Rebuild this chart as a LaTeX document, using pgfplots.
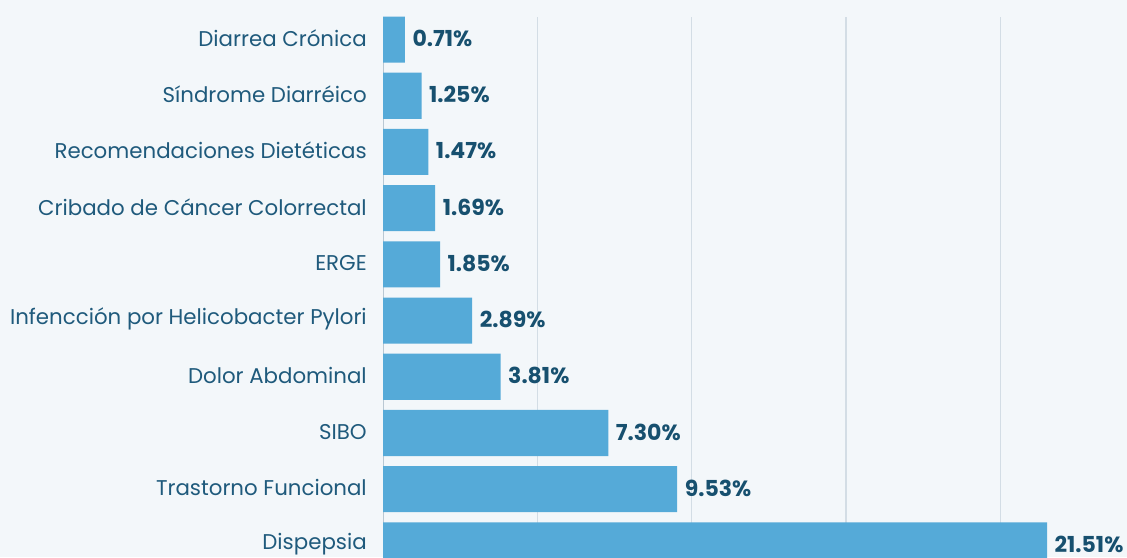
\documentclass[border=0pt]{standalone}
\usepackage{fontspec}
\setmainfont{Poppins}
\usepackage{pgfplots}
\pgfplotsset{compat=1.18}
\definecolor{bg}{HTML}{F3F7FA}
\definecolor{barc}{HTML}{55AAD8}
\definecolor{lab}{HTML}{1F5A7C}
\definecolor{val}{HTML}{17506F}
\definecolor{gridc}{HTML}{D3DDE5}
\definecolor{axl}{HTML}{B9C8D3}
\begin{document}
\begin{tikzpicture}
\useasboundingbox (0pt,0pt) rectangle (845.25pt,-417.75pt);
\fill[bg] (0pt,0pt) rectangle (845.25pt,-417.75pt);
\clip (0pt,0pt) rectangle (845.25pt,-417.75pt);
\begin{axis}[
  at={(287.25pt,-12.375pt)}, anchor=north west,
  scale only axis, width=558pt, height=405.375pt,
  xmin=0, xmax=24.1, ymin=-0.207, ymax=9.41,
  xbar, bar width=0.82, bar shift=0pt,
  axis lines*=left,
  x axis line style={draw=none},
  y axis line style={draw=axl, line width=0.75pt},
  xtick={5,10,15,20}, xticklabels=\empty,
  xmajorgrids, grid style={draw=gridc, line width=0.9pt},
  major tick length=0pt,
  ytick={0,1,2,3,4,5,6,7,8,9},
  yticklabels={Dispepsia, Trastorno Funcional, SIBO, Dolor Abdominal, Infencción por Helicobacter Pylori, ERGE, Cribado de Cáncer Colorrectal, Recomendaciones Dietéticas, Síndrome Diarréico, Diarrea Crónica},
  yticklabel style={anchor=east, inner sep=0pt, xshift=-12pt, yshift=1pt, text=lab, font=\fontsize{16}{19}\selectfont},
  point meta=explicit symbolic,
  nodes near coords,
  nodes near coords style={anchor=west, inner sep=0pt, xshift=5.5pt, yshift=0.75pt, text=val, font=\fontsize{16.5}{19}\selectfont\bfseries},
]
\addplot[fill=barc, draw=none] coordinates {
  (21.51,0) [21.51\%]
  (9.53,1) [9.53\%]
  (7.30,2) [7.30\%]
  (3.81,3) [3.81\%]
  (2.89,4) [2.89\%]
  (1.85,5) [1.85\%]
  (1.69,6) [1.69\%]
  (1.47,7) [1.47\%]
  (1.25,8) [1.25\%]
  (0.71,9) [0.71\%]
};
\end{axis}
\end{tikzpicture}
\end{document}
